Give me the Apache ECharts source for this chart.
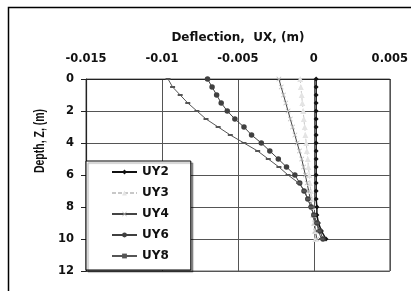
<!DOCTYPE html>
<html>
<head>
<meta charset="utf-8">
<script src="https://cdn.jsdelivr.net/npm/echarts@6/dist/echarts.min.js"></script>
<style>
  html, body { margin: 0; padding: 0; background: #fff; }
  #main { width: 411px; height: 291px; }
</style>
</head>
<body>
<div id="main"></div>
<script>
// depth (m), every 0.5 m
var depths = [0, 0.5, 1, 1.5, 2, 2.5, 3, 3.5, 4, 4.5, 5, 5.5, 6, 6.5, 7, 7.5, 8, 8.5, 9, 9.5, 10];

// deflection UX (m) per series
var uy2 = [0.00015, 0.00015, 0.00015, 0.00015, 0.00015, 0.00015, 0.00015, 0.00015, 0.00015, 0.00015, 0.00015,
           0.00015, 0.00015, 0.00015, 0.00015, 0.00015, 0.0002, 0.0002, 0.0003, 0.0005, 0.0008];
var uy3 = [-0.0009, -0.00086, -0.0008, -0.00076, -0.0007, -0.00066, -0.0006, -0.00056, -0.0005, -0.00046, -0.0004,
           -0.00036, -0.0003, -0.00026, -0.0002, -0.00016, -0.0001, -0.00005, 0, 0.00005, 0.0001];
var uy4 = [-0.0023, -0.00215, -0.002, -0.00185, -0.0017, -0.00155, -0.0014, -0.00125, -0.0011, -0.00095, -0.0008,
           -0.00068, -0.00056, -0.00045, -0.00034, -0.00024, -0.00014, -0.00005, 0.00005, 0.0001, 0.0002];
var uy6 = [-0.007, -0.0067, -0.0064, -0.0061, -0.0057, -0.0052, -0.0046, -0.0041, -0.00346, -0.0029, -0.00234,
           -0.0018, -0.00125, -0.00093, -0.00065, -0.0004, -0.00018, 0, 0.0002, 0.0004, 0.0006];
var uy8 = [-0.0096, -0.0093, -0.0088, -0.0083, -0.0077, -0.0071, -0.0063, -0.0055, -0.0046, -0.0037, -0.003,
           -0.0023, -0.0017, -0.001, -0.0006, -0.0004, -0.0002, 0, 0.0002, 0.0003, 0.0005];

function pairs(vals) {
    return vals.map(function (v, i) { return [v, depths[i]]; });
}

// the original text is wide (stretched), DejaVu Sans Bold comes close
var wide = '"DejaVu Sans", sans-serif';
var xMark = 'path://M0,1L1,0L5,4L9,0L10,1L6,5L10,9L9,10L5,6L1,10L0,9L4,5Z';

var myChart = echarts.init(document.getElementById('main'));
var option = {
    animation: false,
    backgroundColor: '#fff',
    graphic: [
        {
            type: 'rect',
            shape: {x: 8.5, y: 7.5, width: 420, height: 300},
            style: {fill: 'none', stroke: '#000', lineWidth: 1.5},
            silent: true
        },
        {
            type: 'text',
            x: 40, y: 141,
            rotation: Math.PI / 2,
            scaleY: 1.35,
            style: {
                text: 'Depth, Z, (m)',
                font: 'bold 10.5px "Liberation Sans", Arial, sans-serif',
                fill: '#111',
                align: 'center',
                verticalAlign: 'middle'
            },
            silent: true
        }
    ],
    grid: {left: 86, right: 18, top: 79, bottom: 20, show: true, borderColor: '#666', borderWidth: 1},
    legend: {
        orient: 'vertical',
        left: 86,
        top: 161,
        padding: [5, 22, 8, 25],
        itemGap: 9,
        itemWidth: 25,
        itemHeight: 6,
        backgroundColor: '#fff',
        borderColor: '#000',
        borderWidth: 1,
        shadowColor: 'rgba(0,0,0,0.35)',
        shadowOffsetX: 2,
        shadowOffsetY: 2,
        shadowBlur: 1,
        textStyle: {fontFamily: wide, fontWeight: 'bold', fontSize: 12, color: '#111'},
        data: ['UY2', 'UY3', 'UY4', 'UY6', 'UY8']
    },
    xAxis: {
        type: 'value',
        position: 'top',
        min: -0.015,
        max: 0.005,
        interval: 0.005,
        name: 'Deflection,  UX, (m)',
        nameLocation: 'middle',
        nameGap: 35,
        nameTextStyle: {fontFamily: wide, fontWeight: 'bold', fontSize: 12, color: '#111'},
        axisLine: {show: true, onZero: false, lineStyle: {color: '#222', width: 1.2}},
        axisTick: {show: false},
        axisLabel: {fontFamily: wide, fontWeight: 'bold', fontSize: 11.5, color: '#111', margin: 14},
        splitLine: {show: true, lineStyle: {color: '#555', width: 1}}
    },
    yAxis: {
        type: 'value',
        inverse: true,
        min: 0,
        max: 12,
        interval: 2,
        axisLine: {show: true, onZero: false, lineStyle: {color: '#222', width: 1.2}},
        axisTick: {show: true, length: 5, lineStyle: {color: '#222'}},
        axisLabel: {fontFamily: wide, fontWeight: 'bold', fontSize: 11.5, color: '#111', margin: 12},
        splitLine: {show: true, lineStyle: {color: '#555', width: 1}}
    },
    series: [
        {
            name: 'UY2', type: 'line', data: pairs(uy2),
            symbol: 'diamond', symbolSize: 5,
            itemStyle: {color: '#111'},
            lineStyle: {color: '#111', width: 1.5}
        },
        {
            name: 'UY3', type: 'line', data: pairs(uy3),
            symbol: 'triangle', symbolSize: 6,
            itemStyle: {color: '#e4e4e4'},
            lineStyle: {color: '#c8c8c8', width: 1, type: [4, 2]}
        },
        {
            name: 'UY4', type: 'line', data: pairs(uy4),
            symbol: xMark, symbolSize: 5,
            itemStyle: {color: '#bbb'},
            lineStyle: {color: '#444', width: 1}
        },
        {
            name: 'UY6', type: 'line', data: pairs(uy6),
            symbol: 'circle', symbolSize: 5.5,
            itemStyle: {color: '#404040'},
            lineStyle: {color: '#404040', width: 1}
        },
        {
            name: 'UY8', type: 'line', data: pairs(uy8),
            symbol: 'rect', symbolSize: [5, 2],
            itemStyle: {color: '#555'},
            lineStyle: {color: '#555', width: 1}
        }
    ]
};
myChart.setOption(option);
</script>
</body>
</html>
